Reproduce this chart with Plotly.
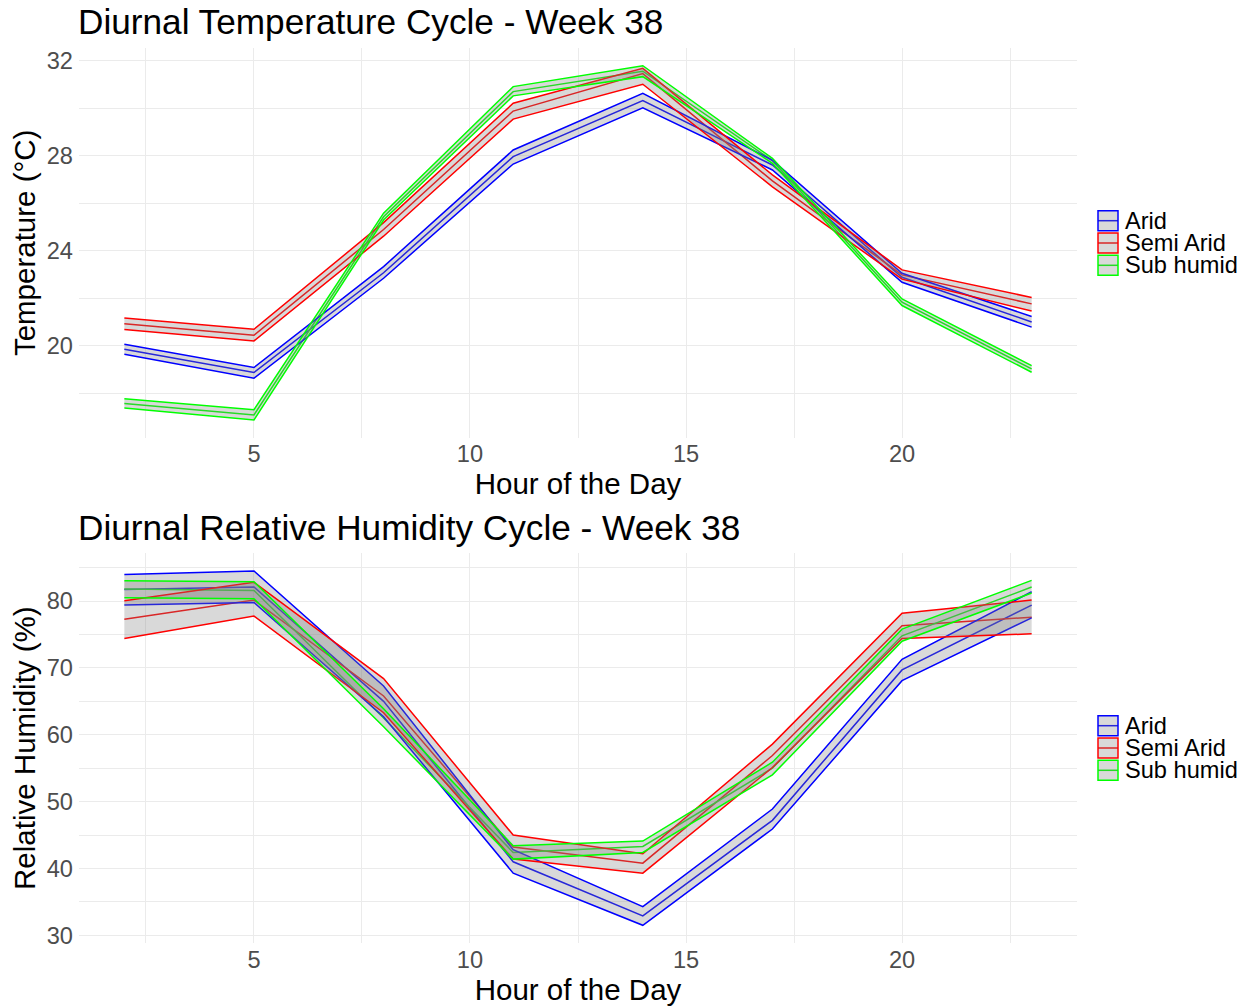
import plotly.graph_objects as go

# ---------------------------------------------------------------- data
hours = [2, 5, 8, 11, 14, 17, 20, 23]
zone_names = ["Arid", "Semi Arid", "Sub humid"]
zone_colors = ["#0000FF", "#FF0000", "#00FF00"]

# Temperature (°C): mean with lower / upper band
temp_arid_lo = [19.65, 18.64, 22.85, 27.66, 30.03, 27.41, 22.68, 20.79]
temp_arid_mean = [19.86, 18.88, 23.08, 27.97, 30.33, 27.62, 22.89, 21.01]
temp_arid_hi = [20.07, 19.09, 23.34, 28.25, 30.64, 27.82, 23.06, 21.24]

temp_semi_lo = [20.69, 20.21, 24.62, 29.55, 31.02, 26.70, 22.81, 21.47]
temp_semi_mean = [20.93, 20.45, 24.90, 29.89, 31.47, 26.95, 22.99, 21.77]
temp_semi_hi = [21.17, 20.70, 25.19, 30.22, 31.69, 27.20, 23.20, 22.04]

temp_sub_lo = [17.38, 16.88, 25.30, 30.53, 31.34, 27.69, 21.70, 18.89]
temp_sub_mean = [17.57, 17.09, 25.44, 30.71, 31.57, 27.80, 21.84, 19.03]
temp_sub_hi = [17.77, 17.31, 25.59, 30.92, 31.80, 27.90, 21.98, 19.17]

# Relative humidity (%): mean with lower / upper band
rh_arid_lo = [79.4, 79.8, 62.7, 39.3, 31.5, 45.9, 68.1, 77.5]
rh_arid_mean = [81.75, 82.1, 65.0, 41.0, 32.9, 47.2, 69.7, 79.4]
rh_arid_hi = [83.99, 84.5, 67.3, 42.8, 34.3, 48.9, 71.3, 81.4]

rh_semi_lo = [74.4, 77.75, 63.3, 41.4, 39.3, 55.1, 74.4, 75.1]
rh_semi_mean = [77.3, 80.15, 65.8, 43.2, 40.8, 56.9, 76.3, 77.6]
rh_semi_hi = [80.05, 82.8, 68.4, 45.0, 42.2, 58.6, 78.2, 80.15]

rh_sub_lo = [80.5, 80.35, 61.2, 41.4, 42.4, 54.0, 74.0, 81.2]
rh_sub_mean = [81.8, 81.6, 62.5, 42.4, 43.3, 55.0, 74.8, 82.1]
rh_sub_hi = [83.03, 82.9, 63.9, 43.4, 44.1, 55.9, 75.8, 83.1]

temp_series = [
    (temp_arid_lo, temp_arid_mean, temp_arid_hi),
    (temp_semi_lo, temp_semi_mean, temp_semi_hi),
    (temp_sub_lo, temp_sub_mean, temp_sub_hi),
]
rh_series = [
    (rh_arid_lo, rh_arid_mean, rh_arid_hi),
    (rh_semi_lo, rh_semi_mean, rh_semi_hi),
    (rh_sub_lo, rh_sub_mean, rh_sub_hi),
]

# ---------------------------------------------------------------- layout geometry
W, H = 1253, 1007
ML, MR, MT, MB = 79, 176, 48, 64
PW, PH = W - ML - MR, H - MT - MB


def px_x(x):
    return (x - ML) / PW


def px_y(y):
    return 1 - (y - MT) / PH


FONT = "Liberation Sans, Arial, sans-serif"
BAND_FILL = "rgba(128,128,128,0.30)"
GRID = "#EBEBEB"
LINE_W = 1.5


def expand(lo, hi, frac=0.05):
    span = hi - lo
    return [lo - span * frac, hi + span * frac]


fig = go.Figure()


def add_panel(series, xa, ya):
    # mean lines first, so the translucent bands sit on top of them
    for (lo, mean, hi), color in zip(series, zone_colors):
        fig.add_trace(go.Scatter(
            x=hours, y=mean, mode="lines", xaxis=xa, yaxis=ya,
            line=dict(color=color, width=LINE_W), showlegend=False,
            hoverinfo="skip"))
    for (lo, mean, hi), color in zip(series, zone_colors):
        fig.add_trace(go.Scatter(
            x=hours, y=lo, mode="lines", xaxis=xa, yaxis=ya,
            line=dict(color=color, width=LINE_W), showlegend=False,
            hoverinfo="skip"))
        fig.add_trace(go.Scatter(
            x=hours, y=hi, mode="lines", xaxis=xa, yaxis=ya, fill="tonexty",
            fillcolor=BAND_FILL, line=dict(color=color, width=LINE_W),
            showlegend=False, hoverinfo="skip"))


add_panel(temp_series, "x", "y")
add_panel(rh_series, "x2", "y2")

temp_all = [v for s in temp_series for arr in s for v in arr]
rh_all = [v for s in rh_series for arr in s for v in arr]
x_range = expand(min(hours), max(hours))

top_domain = [px_y(437.7), 1.0]
bot_domain = [0.0, px_y(553.3)]

xaxis_common = dict(
    range=x_range, tick0=0, dtick=5, showgrid=True, gridcolor=GRID,
    gridwidth=1.4, zeroline=False, showline=False, ticks="",
    tickfont=dict(family=FONT, size=23.6, color="#4D4D4D"),
    minor=dict(tick0=0, dtick=2.5, showgrid=True, gridcolor=GRID, gridwidth=0.7),
    title=dict(text="Hour of the Day", font=dict(family=FONT, size=29.5, color="black"),
               standoff=1),
    automargin=False, fixedrange=True,
)
yaxis_common = dict(
    showgrid=True, gridcolor=GRID, gridwidth=1.4, zeroline=False, showline=False,
    ticks="", ticklabelstandoff=5,
    tickfont=dict(family=FONT, size=23.6, color="#4D4D4D"),
    automargin=False, fixedrange=True,
)

fig.update_layout(
    width=W, height=H,
    margin=dict(l=ML, r=MR, t=MT, b=MB),
    paper_bgcolor="white", plot_bgcolor="white",
    font=dict(family=FONT, color="black"),
    showlegend=False,
    xaxis=dict(**xaxis_common, anchor="y"),
    xaxis2=dict(**xaxis_common, anchor="y2"),
    yaxis=dict(**yaxis_common, domain=top_domain, anchor="x",
               range=expand(min(temp_all), max(temp_all)), tick0=0, dtick=4,
               minor=dict(tick0=0, dtick=2, showgrid=True, gridcolor=GRID, gridwidth=0.7),
               title=dict(text="Temperature (°C)",
                          font=dict(family=FONT, size=29.5, color="black"), standoff=2)),
    yaxis2=dict(**yaxis_common, domain=bot_domain, anchor="x2",
                range=expand(min(rh_all), max(rh_all)), tick0=0, dtick=10,
                minor=dict(tick0=0, dtick=5, showgrid=True, gridcolor=GRID, gridwidth=0.7),
                title=dict(text="Relative Humidity (%)",
                           font=dict(family=FONT, size=29.5, color="black"), standoff=2)),
)

# panel titles
annotations = [
    dict(text="Diurnal Temperature Cycle - Week 38", x=px_x(76), y=px_y(22),
         xref="paper", yref="paper", xanchor="left", yanchor="middle",
         showarrow=False, font=dict(family=FONT, size=35.2, color="black")),
    dict(text="Diurnal Relative Humidity Cycle - Week 38", x=px_x(76), y=px_y(527),
         xref="paper", yref="paper", xanchor="left", yanchor="middle",
         showarrow=False, font=dict(family=FONT, size=35.2, color="black")),
]

# legend keys: band swatch with its outline colour and mean line
shapes = []
KEY_X0, KEY_X1, TEXT_X = 1098, 1118, 1124
KEY_SIZE, KEY_STEP = 20, 22.3
for centre in (243, 748):
    for i, (name, color) in enumerate(zip(zone_names, zone_colors)):
        cy = centre + (i - 1) * KEY_STEP
        shapes.append(dict(type="line", xref="paper", yref="paper",
                           x0=px_x(KEY_X0), x1=px_x(KEY_X1), y0=px_y(cy), y1=px_y(cy),
                           line=dict(color=color, width=LINE_W)))
        shapes.append(dict(type="rect", xref="paper", yref="paper",
                           x0=px_x(KEY_X0), x1=px_x(KEY_X1),
                           y0=px_y(cy - KEY_SIZE / 2), y1=px_y(cy + KEY_SIZE / 2),
                           fillcolor=BAND_FILL, line=dict(color=color, width=LINE_W)))
        annotations.append(dict(text=name, x=px_x(TEXT_X), y=px_y(cy),
                                xref="paper", yref="paper", xanchor="left",
                                yanchor="middle", showarrow=False, borderpad=0,
                                font=dict(family=FONT, size=23.6, color="black")))

fig.update_layout(annotations=annotations, shapes=shapes)

fig.write_html("out.html")
